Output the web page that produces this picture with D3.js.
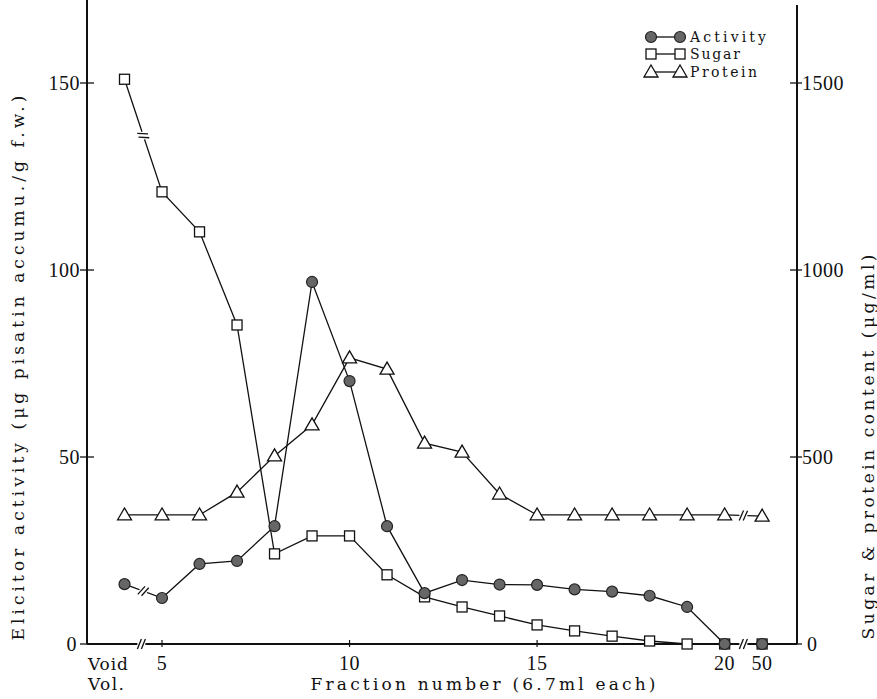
<!DOCTYPE html>
<html>
<head>
<meta charset="utf-8">
<script src="https://cdn.jsdelivr.net/npm/d3@7"></script>
<style>
    body { margin: 0; background: #fff; }
    text { font-family: "DejaVu Serif", "Liberation Serif", serif; fill: #111; }
    .num { font-family: "Liberation Serif", serif; font-size: 20px; }
</style>
</head>
<body>
<svg id="chart" width="877" height="699"></svg>
<script>
// fraction positions: 4 = void volume, 21 = fraction 50 (after the axis break)
var fractions = [4, 5, 6, 7, 8, 9, 10, 11, 12, 13, 14, 15, 16, 17, 18, 19, 20, 21];
var activity = [16, 12.3, 21.4, 22.2, 31.5, 96.8, 70.3, 31.5, 13.6, 17.1, 15.9, 15.8, 14.6, 14.0, 12.9, 9.9, 0, 0];
var sugar = [1510, 1209, 1102, 853, 241, 289, 289, 185, 126, 99, 75, 51, 35, 21, 8, 0, 0, 0];
var protein = [345, 345, 345, 406, 503, 586, 765, 735, 537, 513, 401, 345, 345, 345, 345, 345, 345, 342];
var xTicks = [5, 10, 15, 20, 21];
var xTickLabels = ["5", "10", "15", "20", "50"];
var leftTicks = [0, 50, 100, 150];
var rightTicks = [0, 500, 1000, 1500];

var svg = d3.select("#chart");
var x = d3.scaleLinear().domain([3, 21.93]).range([87, 797]);
var yL = d3.scaleLinear().domain([0, 150]).range([644, 83]);
var yR = d3.scaleLinear().domain([0, 1500]).range([644, 83]);
var x0 = x.range()[0], x1 = x.range()[1], yb = yL(0);

var pts = function(vals, scale) {
    return fractions.map(function(f, i) { return [x(f), scale(vals[i])]; });
};

// axes
var axisG = svg.append("g").attr("stroke", "#111").attr("fill", "none");
axisG.append("line").attr("x1", x0).attr("x2", x0).attr("y1", 0).attr("y2", yb).attr("stroke-width", 2);
axisG.append("line").attr("x1", x1).attr("x2", x1).attr("y1", 5).attr("y2", yb).attr("stroke-width", 2);
axisG.append("line").attr("x1", x0).attr("x2", x1).attr("y1", yb).attr("y2", yb).attr("stroke-width", 1.8);

leftTicks.forEach(function(t) {
    axisG.append("line").attr("x1", x0 - 7).attr("x2", x0 + 7).attr("y1", yL(t)).attr("y2", yL(t)).attr("stroke-width", 1.3);
    svg.append("text").attr("class", "num").attr("x", t == 0 ? x0 - 10 : x0 - 7).attr("y", yL(t) + 7)
	.attr("text-anchor", "end").style("letter-spacing", "0.5px").text(t);
});
rightTicks.forEach(function(t) {
    axisG.append("line").attr("x1", x1 - 7).attr("x2", x1 + 5).attr("y1", yR(t)).attr("y2", yR(t)).attr("stroke-width", 1.3);
    svg.append("text").attr("class", "num").attr("x", t == 0 ? x1 + 10 : x1 + 5).attr("y", yR(t) + 7)
	.style("letter-spacing", "0.5px").text(t);
});
xTicks.forEach(function(t, i) {
    axisG.append("line").attr("x1", x(t)).attr("x2", x(t)).attr("y1", yb - 4).attr("y2", yb + 3).attr("stroke-width", 1.2);
    svg.append("text").attr("class", "num").attr("x", x(t)).attr("y", yb + 26).attr("text-anchor", "middle")
	.style("letter-spacing", "0.5px").text(xTickLabels[i]);
});

// break marks "//"
var breakMark = function(cx, cy, angle) {
    var g = svg.append("g").attr("transform", "translate(" + cx + "," + cy + ") rotate(" + angle + ")");
    g.append("rect").attr("x", -4).attr("y", -5).attr("width", 8).attr("height", 10).attr("fill", "#fff");
    [-2, 2].forEach(function(dx) {
	g.append("line").attr("x1", dx - 2).attr("x2", dx + 2).attr("y1", 5).attr("y2", -5)
	    .attr("stroke", "#111").attr("stroke-width", 1.3);
    });
};

// series lines
var line = d3.line();
var series = [
    { vals: activity, scale: yL },
    { vals: sugar, scale: yR },
    { vals: protein, scale: yR }
];
series.forEach(function(s) {
    svg.append("path").attr("d", line(pts(s.vals, s.scale)))
	.attr("fill", "none").attr("stroke", "#111").attr("stroke-width", 1.3);
});

var midBreak = function(vals, scale, i) {
    var a = [x(fractions[i]), scale(vals[i])], b = [x(fractions[i + 1]), scale(vals[i + 1])];
    var ang = Math.atan2(b[1] - a[1], b[0] - a[0]) * 180 / Math.PI;
    breakMark((a[0] + b[0]) / 2, (a[1] + b[1]) / 2, ang);
};
midBreak(activity, yL, 0);
midBreak(sugar, yR, 0);
midBreak(protein, yR, 16);
breakMark(x(4.45), yb, 0);
breakMark(x(20.5), yb, 0);

// markers
var square = function(g, cx, cy) {
    g.append("rect").attr("x", cx - 5).attr("y", cy - 5).attr("width", 10).attr("height", 10)
	.attr("fill", "#fff").attr("stroke", "#111").attr("stroke-width", 1.3);
};
var triangle = function(g, cx, cy) {
    g.append("path").attr("d", "M" + (cx - 7) + "," + (cy + 5) + "L" + cx + "," + (cy - 7) + "L" + (cx + 7) + "," + (cy + 5) + "Z")
	.attr("fill", "#fff").attr("stroke", "#111").attr("stroke-width", 1.3);
};
var circle = function(g, cx, cy) {
    g.append("circle").attr("cx", cx).attr("cy", cy).attr("r", 5.5)
	.attr("fill", "#666").attr("stroke", "#222").attr("stroke-width", 1.2);
};
var markG = svg.append("g");
pts(protein, yR).forEach(function(p) { triangle(markG, p[0], p[1]); });
pts(sugar, yR).forEach(function(p) { square(markG, p[0], p[1]); });
pts(activity, yL).forEach(function(p) { circle(markG, p[0], p[1]); });

// legend
var legend = [
    { name: "Activity", mark: circle, y: 37, w: 76 },
    { name: "Sugar", mark: square, y: 54, w: 50 },
    { name: "Protein", mark: triangle, y: 72, w: 67 }
];
var legG = svg.append("g");
legend.forEach(function(d) {
    legG.append("line").attr("x1", 651).attr("x2", 680).attr("y1", d.y).attr("y2", d.y)
	.attr("stroke", "#111").attr("stroke-width", 1.3);
    d.mark(legG, 651, d.y);
    d.mark(legG, 680, d.y);
    legG.append("text").attr("x", 690).attr("y", d.y + 5).style("font-size", "14px")
	.attr("textLength", d.w).attr("lengthAdjust", "spacing").text(d.name);
});

// titles
var label = function(txt, tx, ty, rot, len, anchor) {
    return svg.append("text").attr("transform", "translate(" + tx + "," + ty + ") rotate(" + rot + ")")
	.attr("text-anchor", anchor || "middle").style("font-size", "17px")
	.attr("textLength", len).attr("lengthAdjust", "spacing").text(txt);
};
label("Void", 88, 670, 0, 40, "start");
label("Vol.", 88, 690, 0, 36, "start");
label("Fraction number (6.7ml each)", 483, 690, 0, 345);
label("Elicitor activity (\u03bcg pisatin accumu./g f.w.)", 24, 368, -90, 545);
label("Sugar & protein content (\u03bcg/ml)", 874, 447, -90, 385);
</script>
</body>
</html>
